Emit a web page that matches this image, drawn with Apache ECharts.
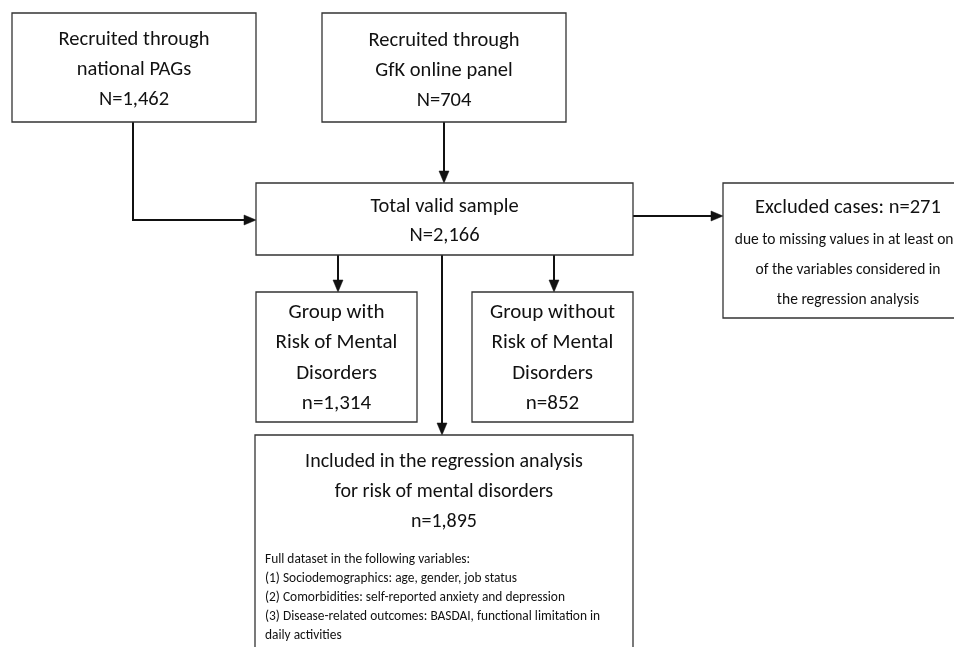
<!DOCTYPE html>
<html>
<head>
<meta charset="utf-8">
<script src="https://cdn.jsdelivr.net/npm/echarts@6/dist/echarts.min.js"></script>
<style>
html,body{margin:0;padding:0;background:#fff;}
#chart{width:954px;height:647px;}
</style>
</head>
<body>
<div id="chart"></div>
<script>
// ---- content (text data) ----
const boxIds = ['pags', 'gfk', 'total', 'excluded', 'withRisk', 'withoutRisk', 'included'];
const boxTitles = [
  ['Recruited through', 'national PAGs'],
  ['Recruited through', 'GfK online panel'],
  ['Total valid sample'],
  ['Excluded cases: n=271'],
  ['Group with', 'Risk of Mental', 'Disorders'],
  ['Group without', 'Risk of Mental', 'Disorders'],
  ['Included in the regression analysis', 'for risk of mental disorders']
];
const boxCounts = ['N=1,462', 'N=704', 'N=2,166', '', 'n=1,314', 'n=852', 'n=1,895'];
const excludedNotes = [
  'due to missing values in at least one',
  'of the variables considered in',
  'the regression analysis'
];
const includedDetails = [
  'Full dataset in the following variables:',
  '(1) Sociodemographics: age, gender, job status',
  '(2) Comorbidities: self-reported anxiety and depression',
  '(3) Disease-related outcomes: BASDAI, functional limitation in',
  'daily activities'
];
const flowFrom = ['pags', 'gfk', 'total', 'total', 'total', 'total'];
const flowTo   = ['total', 'total', 'excluded', 'withRisk', 'withoutRisk', 'included'];

// ---- layout (positions / styles, in canvas units of the hidden axes) ----
const layout = {
  pags:        { rect: [12, 13, 256, 122], cy: 70, lh: 30, fs: 20.5 },
  gfk:         { rect: [322, 13, 566, 122], cy: 71, lh: 30, fs: 20.5 },
  total:       { rect: [256, 183, 633, 255], cy: 221, lh: 29, fs: 20.5 },
  excluded:    { rect: [723, 183, 980, 318], cx: 848, cy: 208, lh: 30, fs: 20.5 },
  withRisk:    { rect: [256, 292, 417, 422], cy: 358, lh: 30.5, fs: 21 },
  withoutRisk: { rect: [472, 292, 633, 422], cy: 358, lh: 30.5, fs: 21 },
  included:    { rect: [255, 435, 633, 700], cy: 492, lh: 30, fs: 20 }
};
const notesLayout = { cy0: 240, lh: 30, fs: 15.5 };
const detailsLayout = { x: 265, y0: 560, lh: 19, fs: 13.4 };
const flowPaths = {
  'pags>total':        [[133, 122], [133, 220], [256, 220]],
  'gfk>total':         [[444, 122], [444, 183]],
  'total>excluded':    [[633, 216], [723, 216]],
  'total>withRisk':    [[338, 255], [338, 292]],
  'total>withoutRisk': [[554, 255], [554, 292]],
  'total>included':    [[442, 255], [442, 435]]
};
const FONT = 'Carlito, Calibri, Lato, "Open Sans", sans-serif';
const INK = '#111';

const chart = echarts.init(document.getElementById('chart'), null, { renderer: 'canvas' });

function boxRender(params, api) {
  const i = api.value(0);
  const id = boxIds[i];
  const L = layout[id];
  const p0 = api.coord([L.rect[0], L.rect[1]]);
  const p1 = api.coord([L.rect[2], L.rect[3]]);
  const children = [{
    type: 'rect',
    shape: { x: p0[0], y: p0[1], width: p1[0] - p0[0], height: p1[1] - p0[1] },
    style: { fill: '#fff', stroke: '#333', lineWidth: 1.3 }
  }];
  const lines = boxTitles[i].concat(boxCounts[i] ? [boxCounts[i]] : []);
  const cx = L.cx !== undefined ? L.cx : (L.rect[0] + L.rect[2]) / 2;
  const start = id === 'excluded' ? L.cy : L.cy - (lines.length - 1) * L.lh / 2;
  lines.forEach(function (t, k) {
    const c = api.coord([cx, start + k * L.lh]);
    children.push({
      type: 'text',
      style: { text: t, x: c[0], y: c[1], align: 'center', verticalAlign: 'middle',
               font: L.fs + 'px ' + FONT, fill: INK }
    });
  });
  if (id === 'excluded') {
    excludedNotes.forEach(function (t, k) {
      const c = api.coord([cx, notesLayout.cy0 + k * notesLayout.lh]);
      children.push({
        type: 'text',
        style: { text: t, x: c[0], y: c[1], align: 'center', verticalAlign: 'middle',
                 font: notesLayout.fs + 'px ' + FONT, fill: INK }
      });
    });
  }
  if (id === 'included') {
    includedDetails.forEach(function (t, k) {
      const c = api.coord([detailsLayout.x, detailsLayout.y0 + k * detailsLayout.lh]);
      children.push({
        type: 'text',
        style: { text: t, x: c[0], y: c[1], align: 'left', verticalAlign: 'middle',
                 font: detailsLayout.fs + 'px ' + FONT, fill: INK }
      });
    });
  }
  return { type: 'group', children: children };
}

function flowRender(params, api) {
  const i = api.value(0);
  const pts = flowPaths[flowFrom[i] + '>' + flowTo[i]].map(function (p) { return api.coord(p); });
  const n = pts.length;
  const a = pts[n - 2], b = pts[n - 1];
  const dx = b[0] - a[0], dy = b[1] - a[1];
  const len = Math.sqrt(dx * dx + dy * dy);
  const ux = dx / len, uy = dy / len;
  const head = 12, half = 5;
  const base = [b[0] - ux * head, b[1] - uy * head];
  const linePts = pts.slice(0, n - 1).concat([base]);
  return {
    type: 'group',
    children: [
      { type: 'polyline', shape: { points: linePts },
        style: { stroke: INK, lineWidth: 2, fill: null, lineJoin: 'miter' } },
      { type: 'polygon', shape: { points: [b, [base[0] - uy * half, base[1] + ux * half], [base[0] + uy * half, base[1] - ux * half]] },
        style: { fill: INK, stroke: INK, lineWidth: 0.5 } }
    ]
  };
}

chart.setOption({
  animation: false,
  backgroundColor: '#fff',
  grid: { left: 0, right: 0, top: 0, bottom: 0 },
  xAxis: { type: 'value', min: 0, max: 954, show: false },
  yAxis: { type: 'value', min: 0, max: 647, inverse: true, show: false },
  series: [
    { type: 'custom', renderItem: flowRender, clip: false,
      data: flowFrom.map(function (_, i) { return [i]; }), z: 1 },
    { type: 'custom', renderItem: boxRender, clip: false,
      data: boxIds.map(function (_, i) { return [i]; }), z: 2 }
  ]
});
</script>
</body>
</html>
